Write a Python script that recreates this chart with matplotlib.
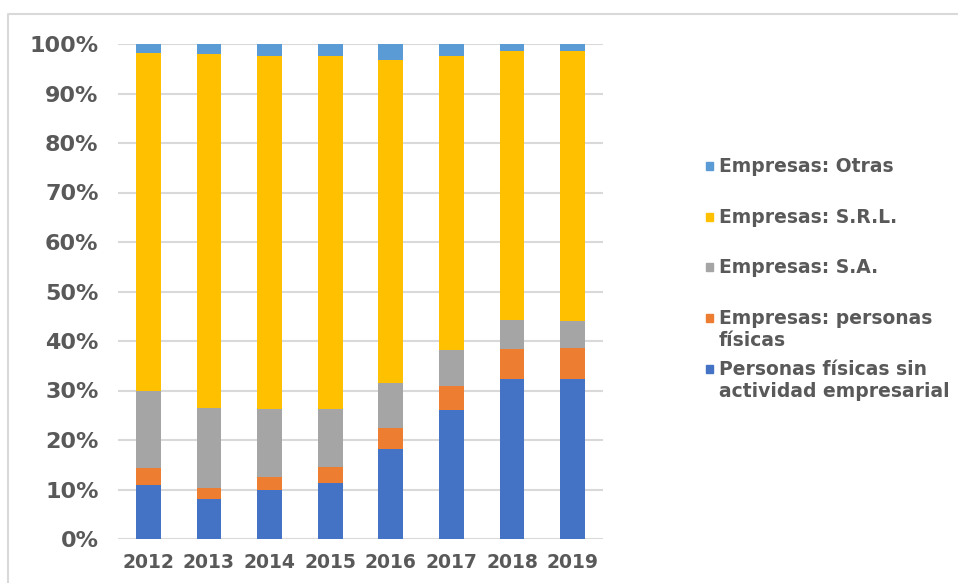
import numpy as np
import matplotlib
matplotlib.use("Agg")
import matplotlib.pyplot as plt
from matplotlib.patches import Rectangle
from matplotlib.lines import Line2D
from matplotlib.ticker import PercentFormatter

years = ["2012", "2013", "2014", "2015", "2016", "2017", "2018", "2019"]

# shares in % (bottom to top)
personas_sin_act = [10.9, 8.1, 9.9, 11.4, 18.2, 26.0, 32.4, 32.4]
emp_personas = [3.4, 2.3, 2.6, 3.2, 4.3, 4.9, 6.0, 6.2]
emp_sa = [15.6, 16.1, 13.7, 11.6, 9.1, 7.2, 5.9, 5.4]
emp_srl = [68.3, 71.4, 71.4, 71.4, 65.2, 59.5, 54.2, 54.5]
emp_otras = [1.8, 2.1, 2.4, 2.4, 3.2, 2.4, 1.5, 1.5]

labels = ["Personas físicas sin\nactividad empresarial",
          "Empresas: personas\nfísicas",
          "Empresas: S.A.",
          "Empresas: S.R.L.",
          "Empresas: Otras"]
colors = ["#4472C4", "#ED7D31", "#A5A5A5", "#FFC000", "#5B9BD5"]
series = [personas_sin_act, emp_personas, emp_sa, emp_srl, emp_otras]

text_color = "#595959"
plt.rcParams['font.family'] = ['DejaVu Sans']
plt.rcParams['font.weight'] = 'bold'

W, H = 958, 583
fig = plt.figure(figsize=(W / 100, H / 100), dpi=100)
ax = fig.add_axes([118 / W, 1 - 539 / H, (603 - 118) / W, (539 - 44) / H])

x = np.arange(len(years))
bottom = np.zeros(len(years))
for vals, col, lab in zip(series, colors, labels):
    v = np.array(vals)
    ax.bar(x, v, width=0.41, bottom=bottom, color=col, label=lab, zorder=3)
    bottom += v

ax.set_xlim(-0.5, len(years) - 0.5)
ax.set_ylim(0, 100)
ax.set_yticks(np.arange(0, 101, 10))
ax.yaxis.set_major_formatter(PercentFormatter(decimals=0))
ax.set_xticks(x)
ax.set_xticklabels(years)
ax.grid(axis='y', color='#D9D9D9', linewidth=1.5, zorder=0)
for s in ax.spines.values():
    s.set_visible(False)
ax.tick_params(axis='y', length=0, pad=14, labelsize=16, labelcolor=text_color)
ax.tick_params(axis='x', length=0, pad=10, labelsize=13.5, labelcolor=text_color)

# legend, Excel style: first lines evenly spaced, top series first
for i, k in enumerate(range(len(series) - 1, -1, -1)):
    base = 172 + 50.7 * i
    fig.patches.append(Rectangle((706 / W, 1 - (base - 2) / H), 7 / W, 8 / H,
                                 transform=fig.transFigure, color=colors[k]))
    for j, line in enumerate(labels[k].split("\n")):
        fig.text(719 / W, 1 - (base + 22 * j) / H, line, fontsize=13.5,
                 color=text_color, va='baseline', ha='left', fontweight='bold')

# chart frame (top and left edges only visible)
fig.lines.append(Line2D([8 / W, 8 / W, 1.0], [0.0, 1 - 14 / H, 1 - 14 / H],
                        transform=fig.transFigure, color='#D9D9D9', linewidth=1.5))

fig.savefig("out.png", dpi=100)
